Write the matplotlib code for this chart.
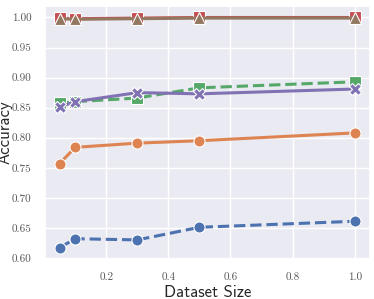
import matplotlib
matplotlib.use("Agg")
import matplotlib.pyplot as plt
import seaborn as sns
import numpy as np

sizes = [0.05, 0.1, 0.3, 0.5, 1.0]
blue = [0.617, 0.632, 0.630, 0.651, 0.661]
orange = [0.757, 0.784, 0.791, 0.795, 0.808]
green = [0.857, 0.860, 0.866, 0.883, 0.893]
purple = [0.851, 0.860, 0.875, 0.873, 0.881]
red = [0.999, 0.998, 0.999, 1.000, 1.000]
brown = [0.998, 0.997, 0.998, 0.999, 0.999]
xticks = [0.2, 0.4, 0.6, 0.8, 1.0]
yticks = [0.60, 0.65, 0.70, 0.75, 0.80, 0.85, 0.90, 0.95, 1.00]

sns.set_theme(style="darkgrid")
pal = sns.color_palette("deep")

fig = plt.figure(figsize=(3.74, 2.99), dpi=100)
ax = fig.add_axes([0.12, 0.133, 0.868, 0.847])

series = [
    (blue, pal[0], '--', 'o'),
    (orange, pal[1], '-', 'o'),
    (green, pal[2], '--', 's'),
    (purple, pal[4], '-', 'X'),
    (red, pal[3], '-', 's'),
    (brown, pal[5], '-', '^'),
]
for ys, c, ls, m in series:
    ax.plot(sizes, ys, color=c, linestyle=ls, marker=m, markersize=8,
            linewidth=2.2, markeredgecolor='white', markeredgewidth=0.8)

ax.set_xticks(xticks)
ax.set_xticklabels(['%.1f' % v for v in xticks], family='cmr10')
ax.set_yticks(yticks)
ax.set_yticklabels(['%.2f' % v for v in yticks], family='cmr10')
ax.tick_params(labelsize=8, pad=3.5, colors='#555555')
ax.set_xlabel('Dataset Size', fontsize=12, family='cmss10', labelpad=2)
ax.set_ylabel('Accuracy', fontsize=12, family='cmss10', labelpad=-0.5)
fig.savefig("out.png", dpi=100)
